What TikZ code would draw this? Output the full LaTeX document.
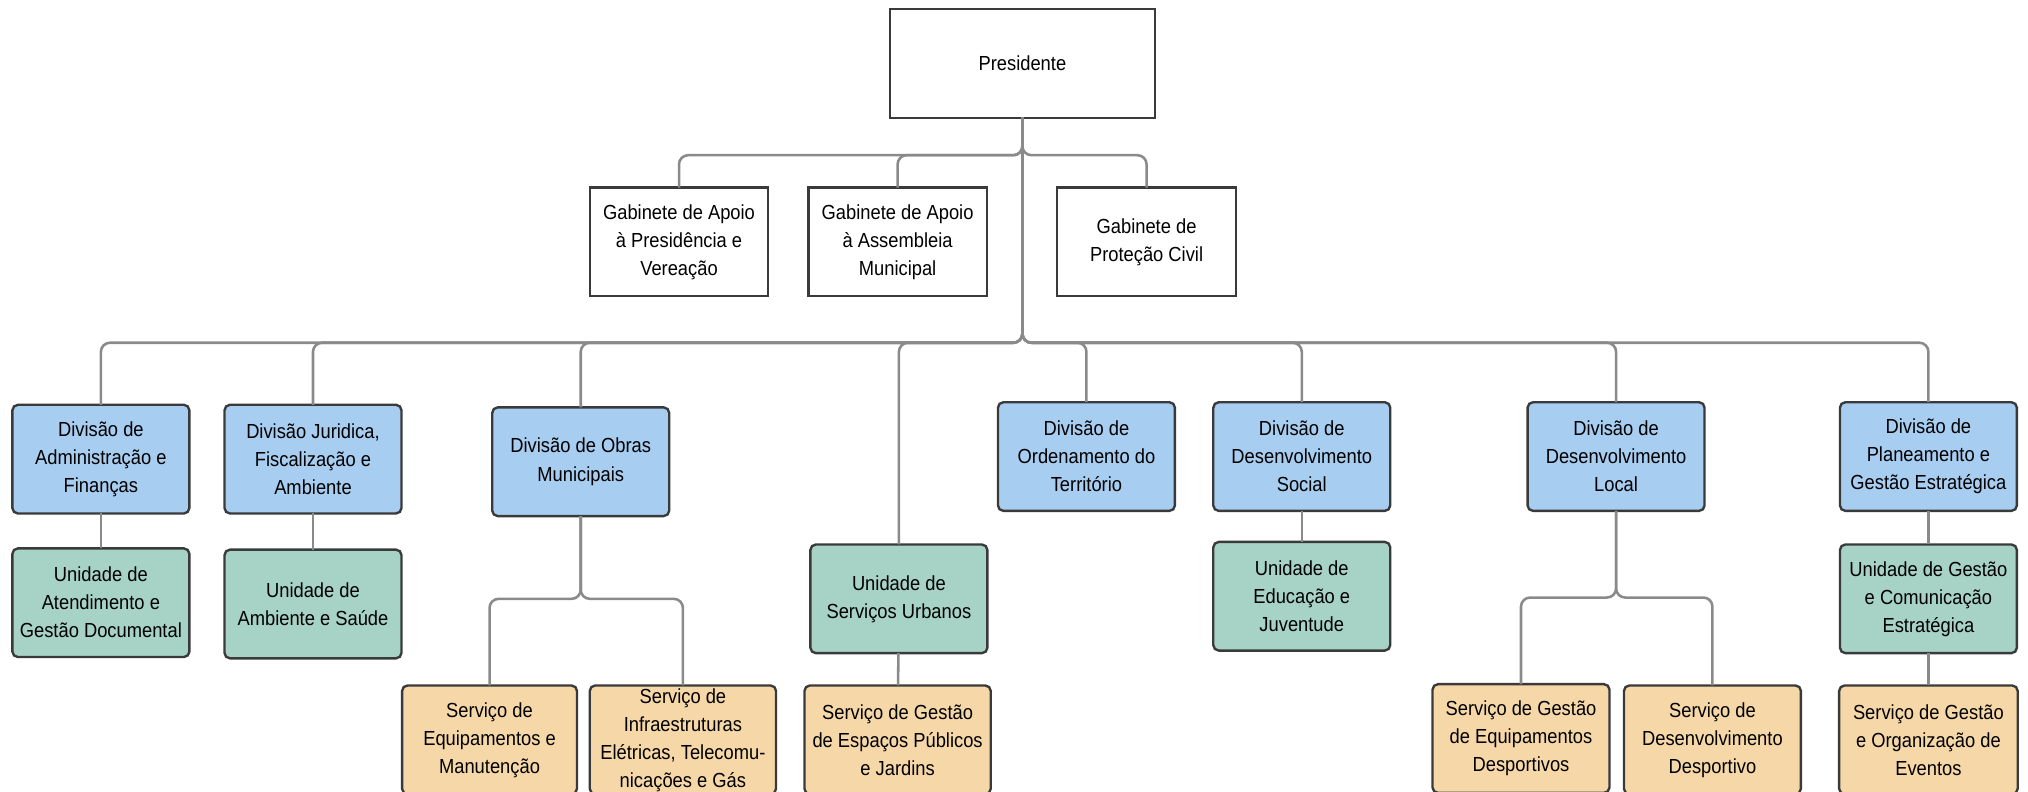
\documentclass[tikz,border=0pt]{standalone}
\usepackage{fontspec}
\setmainfont{Liberation Sans}[FakeStretch=0.9]
\definecolor{divblue}{HTML}{A7CDF0}
\definecolor{unitgreen}{HTML}{A6D3C5}
\definecolor{servorange}{HTML}{F6D8A8}
\definecolor{boxline}{HTML}{3A3A3A}
\definecolor{linkgray}{HTML}{8A8A8A}
\tikzset{
  orgbox/.style={draw=boxline, line width=1.3pt, align=center, inner sep=0pt, outer sep=0pt,
    minimum width=3.42cm, minimum height=2.1cm, font=\fontsize{11.2}{15.4}\selectfont},
  gabbox/.style={orgbox, fill=white, minimum width=3.45cm},
  divbox/.style={orgbox, fill=divblue, rounded corners=3pt},
  unitbox/.style={orgbox, fill=unitgreen, rounded corners=3pt},
  servbox/.style={orgbox, fill=servorange, rounded corners=3pt},
  link/.style={draw=linkgray, line width=1.4pt, rounded corners=5pt}
}
\begin{document}
\begin{tikzpicture}[x=0.025cm, y=-0.025cm]
    \useasboundingbox (0,0) rectangle (1568,612.3);
    \clip (0,0) rectangle (1568,612.3);

    \node[gabbox, minimum width=5.125cm] (pres) at (790.5,49) {Presidente};

    \node[gabbox] (gab1) at (525,187) {Gabinete de Apoio\\à Presidência e\\Vereação};
    \node[gabbox] (gab2) at (694,187) {Gabinete de Apoio\\à Assembleia\\Municipal};
    \node[gabbox] (gab3) at (886.5,187) {Gabinete de\\Proteção Civil};

    \node[divbox] (div1) at (78,355) {Divisão de\\Administração e\\Finanças};
    \node[divbox] (div2) at (242,355) {Divisão Juridica,\\Fiscalização e\\Ambiente};
    \node[divbox] (div3) at (449,357) {Divisão de Obras\\Municipais};
    \node[divbox] (div4) at (840,353) {Divisão de\\Ordenamento do\\Território};
    \node[divbox] (div5) at (1006.5,353) {Divisão de\\Desenvolvimento\\Social};
    \node[divbox] (div6) at (1249.5,353) {Divisão de\\Desenvolvimento\\Local};
    \node[divbox] (div7) at (1491,353) {Divisão de\\Planeamento e\\Gestão Estratégica};

    \node[unitbox] (un1) at (78,466) {Unidade de\\Atendimento e\\Gestão Documental};
    \node[unitbox] (un2) at (242,467) {Unidade de\\Ambiente e Saúde};
    \node[unitbox] (un3) at (695,463) {Unidade de\\Serviços Urbanos};
    \node[unitbox] (un4) at (1006.5,461) {Unidade de\\Educação e\\Juventude};
    \node[unitbox] (un5) at (1491,463) {Unidade de Gestão\\e Comunicação\\Estratégica};

    \node[servbox, minimum width=3.38cm] (sv1) at (378.5,572) {Serviço de\\Equipamentos e\\Manutenção};
    \node[servbox, minimum width=3.6cm] (sv2) at (528,572) {Serviço de\\Infraestruturas\\Elétricas, Telecomu-\\nicações e Gás};
    \node[servbox, minimum width=3.6cm] (sv3) at (694,572) {Serviço de Gestão\\de Espaços Públicos\\e Jardins};
    \node[servbox] (sv4) at (1176,571) {Serviço de Gestão\\de Equipamentos\\Desportivos};
    \node[servbox] (sv5) at (1324,572) {Serviço de\\Desenvolvimento\\Desportivo};
    \node[servbox, minimum width=3.45cm] (sv6) at (1491,572) {Serviço de Gestão\\e Organização de\\Eventos};

    \coordinate (busA) at (0,120);
    \coordinate (busB) at (0,265);
    \coordinate (busC) at (0,463);
    \coordinate (busD) at (0,462);

    \foreach \c in {gab1,gab2,gab3}
        \draw[link] (pres.south) -- (pres.south |- busA) -| (\c.north);
    \foreach \c in {div1,div2,div3,un3,div4,div5,div6,div7}
        \draw[link] (pres.south) -- (pres.south |- busB) -| (\c.north);

    \foreach \c in {sv1,sv2}
        \draw[link] (div3.south) -- (div3.south |- busC) -| (\c.north);
    \foreach \c in {sv4,sv5}
        \draw[link] (div6.south) -- (div6.south |- busD) -| (\c.north);

    \draw[link] (div1) -- (un1);
    \draw[link] (div2) -- (un2);
    \draw[link] (un3) -- (sv3);
    \draw[link] (div5) -- (un4);
    \draw[link] (div7) -- (un5);
    \draw[link] (un5) -- (sv6);
\end{tikzpicture}
\end{document}
